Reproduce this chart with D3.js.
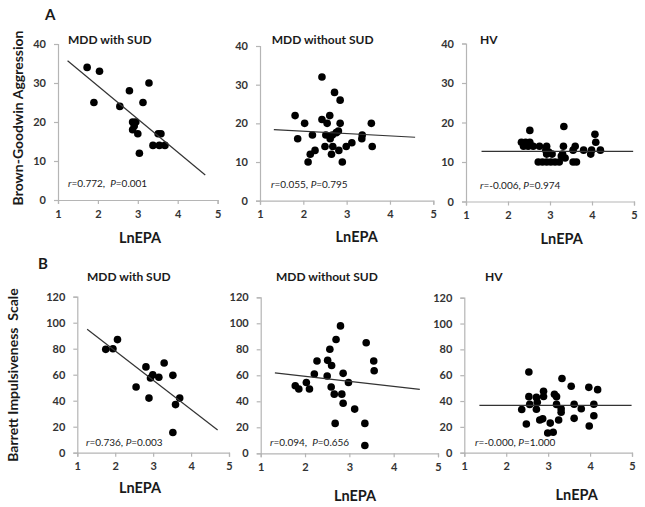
<!DOCTYPE html>
<html><head><meta charset="utf-8">
<script src="https://cdn.jsdelivr.net/npm/d3@7/dist/d3.min.js"></script>
<style>
html,body{margin:0;padding:0;background:#fff;}
svg{display:block;font-family:Lato,"Open Sans",sans-serif;}
text{white-space:pre;}
</style></head>
<body><svg id="c" width="645" height="507"></svg>
<script>
// ---------- data ----------
const xTicks = [1, 2, 3, 4, 5];
const yTicksA = [0, 10, 20, 30, 40];
const yTicksB = [0, 20, 40, 60, 80, 100, 120];

const panelTitles = ["MDD with SUD", "MDD without SUD", "HV", "MDD with SUD", "MDD without SUD", "HV"];
const statR = ["0.772", "0.055", "-0.006", "0.736", "0.094", "-0.000"];
const statP = ["0.001", "0.795", "0.974", "0.003", "0.656", "1.000"];
const statSep = [",  ", ", ", ", ", ", ", ",  ", ", "];

const aWithSUD = [[1.73,34],[2.04,33],[1.90,25],[2.55,24],[2.79,28],[3.28,30],[3.13,25],[2.87,20],[2.95,20],[2.91,19],[2.87,18],[3.00,17],[3.04,12],[3.51,17],[3.58,17],[3.38,14],[3.54,14],[3.68,14]];
const aWithoutSUD = [[2.43,32],[2.72,28],[2.85,26],[1.81,22],[2.43,21],[2.61,22],[2.03,20],[2.55,20],[2.85,20],[3.57,20],[1.87,16],[2.21,17],[2.52,17],[2.62,16],[2.67,17],[2.76,17.6],[2.81,18],[3.36,17],[3.35,16],[2.50,14],[2.68,14],[2.82,13],[2.99,14],[3.12,15],[3.59,14],[2.27,13],[2.16,12],[2.65,12],[2.11,10],[2.90,10]];
const aHV = [[2.52,18],[3.33,19],[4.07,17],[2.32,15],[2.42,15],[2.52,15],[2.37,14],[2.48,14],[2.60,14],[2.75,14],[2.92,14],[2.90,13],[2.92,12],[3.05,12],[2.97,12.5],[3.32,14],[3.30,12],[3.36,11],[3.27,11.5],[3.55,13],[3.60,14],[3.80,13],[3.97,12],[3.99,13],[4.09,15],[4.20,13],[2.72,10],[2.82,10],[2.92,10],[3.02,10],[3.12,10],[3.22,10],[3.55,10],[3.63,10]];
const bWithSUD = [[1.75,79.5],[1.94,80],[2.06,87],[2.55,50.5],[2.81,66],[2.89,42],[2.93,57.5],[2.99,60],[3.15,58],[3.29,69],[3.52,59.5],[3.70,42],[3.59,37],[3.52,15.5]];
const bWithoutSUD = [[2.80,98],[2.70,87.5],[3.38,85],[2.56,80],[2.27,71],[2.51,71.5],[2.60,67.5],[3.55,71],[3.56,63.5],[2.21,61],[2.50,59.5],[2.86,61.5],[1.78,52],[1.86,49.5],[2.03,54.5],[2.10,49.5],[2.59,51],[2.98,54.5],[2.66,45.5],[2.83,45.5],[2.86,38.5],[3.12,34],[2.68,23],[3.35,23],[3.35,6]];
const bHV = [[2.54,62.5],[3.33,57.5],[3.55,51.4],[3.97,50.6],[4.18,48.8],[2.89,47.5],[2.89,43.5],[3.15,45.2],[3.20,43.4],[2.54,43.4],[2.72,42.8],[2.74,39],[2.56,37.4],[3.20,37.4],[3.31,34],[3.31,31.3],[3.62,37.5],[4.09,37.5],[2.37,33.5],[2.72,33.6],[3.79,34],[4.09,28.6],[3.62,26.6],[2.80,25.3],[2.87,26.2],[3.25,25.3],[2.48,22.2],[3.05,22.9],[3.98,20.7],[2.99,15.3],[3.12,15.8]];

const fitLines = [
  [[1.24,35.7],[4.69,6.4]],
  [[1.32,18.4],[4.58,16.4]],
  [[1.37,12.7],[4.98,12.7]],
  [[1.26,94.9],[4.70,17.4]],
  [[1.32,61.8],[4.59,49.2]],
  [[1.36,36.6],[4.99,36.6]]
];
const seriesList = [aWithSUD, aWithoutSUD, aHV, bWithSUD, bWithoutSUD, bHV];

// ---------- layout ----------
const layout = [
  {x0:58,   x1:217.6, yTop:44,    yBot:200,   ticks:yTicksA, tx:68,    ty:44,  sx:68,  sy:187, lx:140,   ly:243},
  {x0:260,  x1:433.3, yTop:46,    yBot:200.7, ticks:yTicksA, tx:271.7, ty:44,  sx:271, sy:188, lx:356.7, ly:242},
  {x0:466,  x1:634,   yTop:43.5,  yBot:201.5, ticks:yTicksA, tx:480,   ty:44,  sx:480, sy:189, lx:561.7, ly:244},
  {x0:77.3, x1:229,   yTop:296.7, yBot:452.7, ticks:yTicksB, tx:87,    ty:281, sx:86,  sy:446, lx:140,   ly:493},
  {x0:260.7,x1:438,   yTop:297.3, yBot:453.3, ticks:yTicksB, tx:276,   ty:281, sx:270, sy:446, lx:355,   ly:501},
  {x0:464.3,x1:632,   yTop:297.7, yBot:452.7, ticks:yTicksB, tx:485,   ty:281, sx:475, sy:446, lx:576.7, ly:500}
];

const svg = d3.select("#c");
const axisColor = "#b5b5b5";
const textColor = "#1a1a1a";

seriesList.forEach((pts, i) => {
  const L = layout[i];
  const x = d3.scaleLinear().domain([1,5]).range([L.x0, L.x1]);
  const yMax = L.ticks[L.ticks.length-1];
  const y = d3.scaleLinear().domain([0,yMax]).range([L.yBot, L.yTop]);
  const g = svg.append("g");

  const xa = g.append("g").attr("transform", `translate(0,${L.yBot})`)
    .call(d3.axisBottom(x).tickValues(xTicks).tickFormat(d3.format("d")).tickSizeOuter(0).tickSize(4).tickPadding(6));
  const ya = g.append("g").attr("transform", `translate(${L.x0},0)`)
    .call(d3.axisLeft(y).tickValues(L.ticks).tickFormat(d3.format("d")).tickSizeOuter(0).tickSize(4).tickPadding(8));
  [xa, ya].forEach(a => {
    a.select(".domain").attr("stroke", axisColor).attr("stroke-width", 1.2);
    a.selectAll(".tick line").attr("stroke", axisColor).attr("stroke-width", 1.2);
    a.selectAll(".tick text").attr("fill", "#333").attr("font-size", 11).attr("font-weight", "bold")
      .attr("font-family", "Lato, sans-serif");
  });

  g.selectAll("circle").data(pts).enter().append("circle")
    .attr("cx", d => x(d[0])).attr("cy", d => y(d[1])).attr("r", 3.8).attr("fill", "#000");

  const fl = fitLines[i];
  g.append("line").attr("x1", x(fl[0][0])).attr("y1", y(fl[0][1]))
    .attr("x2", x(fl[1][0])).attr("y2", y(fl[1][1]))
    .attr("stroke", "#333").attr("stroke-width", 1.2);

  g.append("text").attr("x", L.tx).attr("y", L.ty).text(panelTitles[i])
    .attr("font-size", 12).attr("font-weight", "bold").attr("fill", textColor);

  const st = g.append("text").attr("x", L.sx).attr("y", L.sy).attr("font-size", 10).attr("fill", textColor);
  st.append("tspan").attr("font-style", "italic").text("r");
  st.append("tspan").text("=" + statR[i] + statSep[i]);
  st.append("tspan").attr("font-style", "italic").text("P");
  st.append("tspan").text("=" + statP[i]);

  g.append("text").attr("x", L.lx).attr("y", L.ly).attr("text-anchor", "middle")
    .attr("font-size", 14.5).attr("font-weight", "bold").attr("fill", textColor).text("LnEPA");
});

svg.append("text").attr("x", 45).attr("y", 20).text("A").attr("font-size", 15).attr("font-weight", "bold").attr("fill", textColor);
svg.append("text").attr("x", 38).attr("y", 269).text("B").attr("font-size", 15).attr("font-weight", "bold").attr("fill", textColor);

svg.append("text").attr("transform", "translate(23,118) rotate(-90)").attr("text-anchor", "middle")
  .attr("font-size", 14).attr("font-weight", "bold").attr("fill", textColor).text("Brown-Goodwin Aggression");
svg.append("text").attr("transform", "translate(18,375) rotate(-90)").attr("text-anchor", "middle")
  .attr("font-size", 14).attr("font-weight", "bold").attr("fill", textColor).text("Barrett Impulsiveness  Scale");
</script></body></html>
